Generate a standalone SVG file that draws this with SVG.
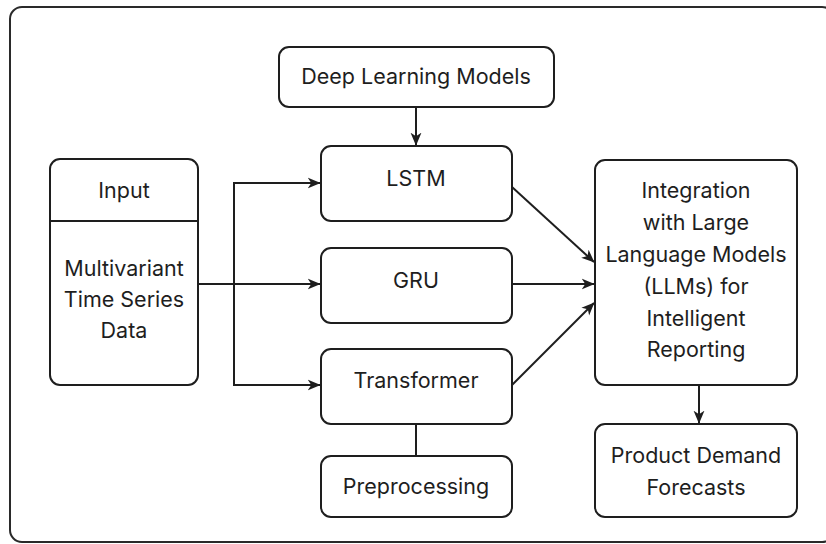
<svg xmlns="http://www.w3.org/2000/svg" width="826" height="544" viewBox="0 0 826 544">
  <defs>
    <marker id="arrow" viewBox="0 0 10 10" refX="9.5" refY="5" markerWidth="13" markerHeight="13" markerUnits="userSpaceOnUse" orient="auto">
      <path d="M0,0.8 L10,5 L0,9.2 L2.8,5 Z" fill="#1e1e1e"/>
    </marker>
    <style>
      .box { fill: #ffffff; stroke: #1e1e1e; stroke-width: 2; }
      .frame { fill: #ffffff; stroke: #2a2a2a; stroke-width: 2; }
      .lbl { font-family: Inter, "Liberation Sans", sans-serif; font-size: 21.5px; fill: #1e1e1e; text-anchor: middle; }
      .edge { fill: none; stroke: #1e1e1e; stroke-width: 2; }
    </style>
  </defs>

  <!-- outer frame, running past the right edge -->
  <rect class="frame" x="10" y="7" width="824" height="535" rx="12"/>

  <g id="connectors">
    <line class="edge" x1="416" y1="107" x2="416" y2="145" marker-end="url(#arrow)"/>
    <line class="edge" x1="198" y1="284" x2="320" y2="284" marker-end="url(#arrow)"/>
    <polyline class="edge" points="320,183 234,183 234,385 320,385" marker-end="url(#arrow)"/>
    <line class="edge" x1="234" y1="183" x2="320" y2="183" marker-end="url(#arrow)"/>
    <line class="edge" x1="416" y1="424" x2="416" y2="456"/>
    <line class="edge" x1="512" y1="187" x2="594" y2="262" marker-end="url(#arrow)"/>
    <line class="edge" x1="512" y1="284" x2="594" y2="284" marker-end="url(#arrow)"/>
    <line class="edge" x1="512" y1="385" x2="594" y2="303" marker-end="url(#arrow)"/>
    <line class="edge" x1="699" y1="385" x2="699" y2="423" marker-end="url(#arrow)"/>
  </g>

  <g id="deep-learning-models">
    <rect class="box" x="279" y="47" width="275" height="60" rx="10"/>
    <text class="lbl" x="416" y="84">Deep Learning Models</text>
  </g>

  <g id="input">
    <rect class="box" x="50" y="159" width="148" height="226" rx="10"/>
    <line class="edge" x1="50" y1="221" x2="198" y2="221"/>
    <text class="lbl" x="124" y="198">Input</text>
    <text class="lbl" x="124" y="276">Multivariant</text>
    <text class="lbl" x="124" y="307">Time Series</text>
    <text class="lbl" x="124" y="338">Data</text>
  </g>

  <g id="lstm">
    <rect class="box" x="321" y="146" width="191" height="75" rx="10"/>
    <text class="lbl" x="416" y="186">LSTM</text>
  </g>

  <g id="gru">
    <rect class="box" x="321" y="248" width="191" height="75" rx="10"/>
    <text class="lbl" x="416" y="288">GRU</text>
  </g>

  <g id="transformer">
    <rect class="box" x="321" y="349" width="191" height="75" rx="10"/>
    <text class="lbl" x="416" y="388">Transformer</text>
  </g>

  <g id="preprocessing">
    <rect class="box" x="321" y="456" width="191" height="61" rx="10"/>
    <text class="lbl" x="416" y="494">Preprocessing</text>
  </g>

  <g id="llm-integration">
    <rect class="box" x="595" y="160" width="202" height="225" rx="10"/>
    <text class="lbl" x="696" y="198">Integration</text>
    <text class="lbl" x="696" y="230">with Large</text>
    <text class="lbl" x="696" y="262">Language Models</text>
    <text class="lbl" x="696" y="294">(LLMs) for</text>
    <text class="lbl" x="696" y="326">Intelligent</text>
    <text class="lbl" x="696" y="357">Reporting</text>
  </g>

  <g id="demand-forecasts">
    <rect class="box" x="595" y="424" width="202" height="93" rx="10"/>
    <text class="lbl" x="696" y="463">Product Demand</text>
    <text class="lbl" x="696" y="495">Forecasts</text>
  </g>
</svg>
